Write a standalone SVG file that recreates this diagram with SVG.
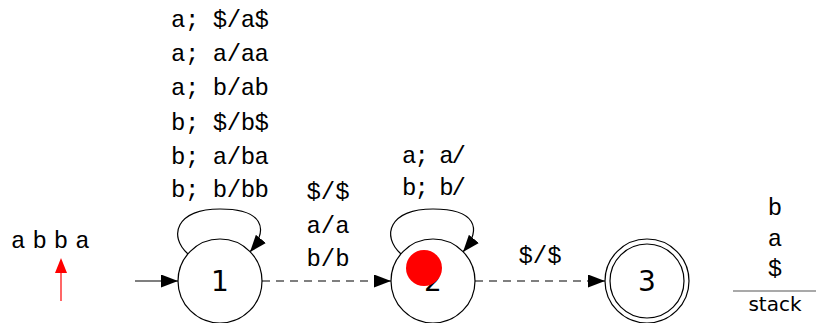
<svg xmlns="http://www.w3.org/2000/svg" width="816" height="323" viewBox="0 0 816 323">
<defs>
<style>
.node{fill:#fff;stroke:#000;stroke-width:1.2}
.edge{fill:none;stroke:#000;stroke-width:1.2}
.dash{stroke-dasharray:8 6}
.lbl{font-family:"Liberation Mono","DejaVu Sans Mono",monospace;font-size:24px;fill:#000;text-anchor:middle}
.num{font-family:"DejaVu Sans","Liberation Sans",sans-serif;font-size:28px;fill:#000;text-anchor:middle}
.sans{font-family:"DejaVu Sans","Liberation Sans",sans-serif;font-size:20px;fill:#000;text-anchor:middle}
</style>
<marker id="arr" markerUnits="userSpaceOnUse" markerWidth="19" markerHeight="13" refX="17" refY="6.5" orient="auto">
<path d="M0,0 L17,6.5 L0,13 Z" fill="#000"/>
</marker>
</defs>
<rect width="816" height="323" fill="#fff"/>
<g id="connectors">
<line class="edge" x1="135" y1="281" x2="178" y2="281" marker-end="url(#arr)"/>
<path class="edge" d="M188,254 C168,236 176,209 220,209 C262,209 270,228 250,252" marker-end="url(#arr)"/>
<line class="edge dash" x1="262" y1="281" x2="391" y2="281" marker-end="url(#arr)"/>
<path class="edge" d="M401,254 C381,236 389,209 433,209 C475,209 483,228 463,252" marker-end="url(#arr)"/>
<line class="edge dash" x1="475" y1="281" x2="605" y2="281" marker-end="url(#arr)"/>
</g>
<g id="labels-loop1">
<text class="lbl" x="220" y="27" textLength="98">a; $/a$</text>
<text class="lbl" x="220" y="61" textLength="98">a; a/aa</text>
<text class="lbl" x="220" y="95" textLength="98">a; b/ab</text>
<text class="lbl" x="220" y="130" textLength="98">b; $/b$</text>
<text class="lbl" x="220" y="164" textLength="98">b; a/ba</text>
<text class="lbl" x="220" y="197" textLength="98">b; b/bb</text>
</g>
<g id="labels-12">
<text class="lbl" x="328" y="199">$/$</text>
<text class="lbl" x="328" y="233">a/a</text>
<text class="lbl" x="328" y="266">b/b</text>
</g>
<g id="labels-loop2">
<text class="lbl" x="434" y="163" textLength="64">a; a/</text>
<text class="lbl" x="434" y="195" textLength="64">b; b/</text>
</g>
<g id="labels-23">
<text class="lbl" x="540" y="263">$/$</text>
</g>
<g id="node1">
<circle class="node" cx="220" cy="281" r="42"/>
<text class="num" x="220" y="291">1</text>
</g>
<g id="node2">
<circle class="node" cx="433" cy="281" r="42"/>
<text class="num" x="433" y="291">2</text>
</g>
<g id="node3">
<circle class="node" cx="647" cy="281" r="42"/>
<circle class="node" cx="647" cy="281" r="37"/>
<text class="num" x="647" y="291">3</text>
</g>
<g id="token">
<circle cx="424" cy="268" r="18" fill="#f00"/>
</g>
<g id="input">
<text class="lbl" x="11" y="248" style="text-anchor:start;letter-spacing:7px">abba</text>
<line x1="61" y1="301" x2="61" y2="272" stroke="#f00" stroke-width="1.2"/>
<path d="M55,273 L67,273 L61,258 Z" fill="#f00"/>
</g>
<g id="stack">
<text class="lbl" x="775" y="215">b</text>
<text class="lbl" x="775" y="246">a</text>
<text class="lbl" x="775" y="276">$</text>
<line x1="733" y1="291" x2="816" y2="291" stroke="#555" stroke-width="1.2"/>
<text class="sans" x="775" y="311">stack</text>
</g>
</svg>
